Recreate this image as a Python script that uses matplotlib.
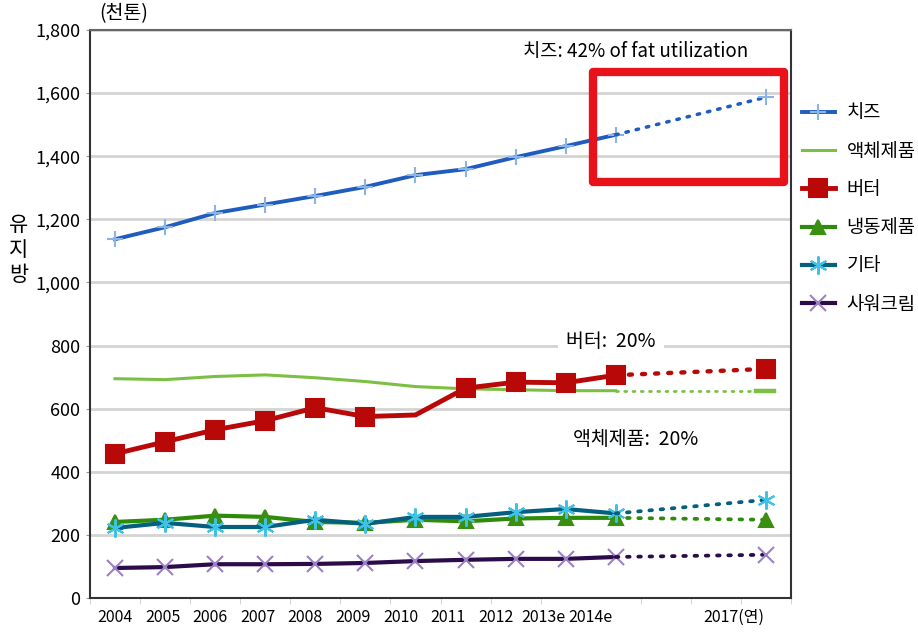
import matplotlib
matplotlib.use("Agg")
import matplotlib.pyplot as plt
from matplotlib.patches import Rectangle

plt.rcParams['font.family'] = ['Noto Sans CJK KR', 'DejaVu Sans']

# %% data (천톤)
categories = ['2004', '2005', '2006', '2007', '2008', '2009', '2010', '2011',
              '2012', '2013e', '2014e', '', '', '2017(연)']
hist_idx = list(range(11))
proj_idx = 13

cheese = [1137, 1175, 1220, 1247, 1274, 1303, 1340, 1359, 1397, 1432, 1468]
cheese_2017 = 1587
liquid = [695, 692, 702, 707, 698, 686, 670, 663, 660, 657, 657]
liquid_2017 = 657
butter = [457, 495, 533, 562, 603, 575, 580, 665, 684, 682, 706]
butter_2017 = 726
frozen = [241, 248, 261, 257, 241, 238, 248, 243, 252, 254, 254]
frozen_2017 = 248
other = [222, 238, 225, 225, 248, 235, 257, 257, 272, 282, 268]
other_2017 = 311
sour = [95, 98, 107, 107, 108, 111, 117, 121, 124, 124, 130]
sour_2017 = 137

series = [
    # name, hist, 2017, line color, marker, marker color, marker size, line width
    ('치즈', cheese, cheese_2017, '#1f5cbf', '+', '#8ab4e6', 12, 2.8),
    ('액체제품', liquid, liquid_2017, '#7cc043', None, '#7cc043', 0, 2.2),
    ('버터', butter, butter_2017, '#b80808', 's', '#b80808', 13, 3.5),
    ('냉동제품', frozen, frozen_2017, '#2f8c0a', '^', '#3a8f10', 10, 3.0),
    ('기타', other, other_2017, '#04607e', (6, 2, 0), '#3ec3e6', 13, 3.0),
    ('사워크림', sour, sour_2017, '#2c0b4a', 'x', '#9b80c4', 11, 3.0),
]

# %% plot
fig = plt.figure(figsize=(9.18, 6.33), dpi=100)
ax = fig.add_axes([0.098, 0.0553, 0.7637, 0.8973])

handles = []
for name, vals, v17, col, mk, mcol, ms, lw in series:
    markevery = None
    if name == '버터':
        markevery = [i for i in hist_idx if i != 6]
    h, = ax.plot(hist_idx, vals, color=col, lw=lw, marker=mk, ms=ms,
                 mfc=mcol, mec=mcol, mew=1.5, markevery=markevery, zorder=3,
                 label=name)
    ax.plot([hist_idx[-1], proj_idx], [vals[-1], v17], color=col, lw=lw * 0.9,
            linestyle=(0, (0.7, 2.3)), dash_capstyle='round', zorder=3)
    if mk is not None:
        ax.plot([proj_idx], [v17], marker=mk, ms=ms, mfc=mcol, mec=mcol,
                mew=1.5, ls='none', zorder=4)
    else:
        ax.plot([proj_idx - 0.2, proj_idx + 0.15], [v17, v17], color=col,
                lw=lw + 1, zorder=3)
    handles.append(h)

ax.set_xlim(-0.5, 13.5)
ax.set_ylim(0, 1800)
ax.set_yticks(range(0, 1801, 200))
ax.set_yticklabels(['0', '200', '400', '600', '800', '1,000', '1,200',
                    '1,400', '1,600', '1,800'], fontsize=13)
ax.set_xticks([i * 0.95 for i in range(len(categories))])
ax.set_xticklabels(categories, fontsize=11.5)
ax.set_xticks([i - 0.5 for i in range(15)], minor=True)
ax.tick_params(axis='x', which='major', length=0, pad=8)
ax.tick_params(axis='x', which='minor', length=4, color='#cccccc')
ax.tick_params(axis='y', length=3, color='#999999', pad=4)
ax.grid(axis='y', color='#d4d4d4', lw=2)
ax.set_axisbelow(True)
for s in ax.spines.values():
    s.set_color('#333333')
    s.set_linewidth(1.5)
ax.spines['top'].set_color('#666666')

# highlight box around projection
ax.add_patch(Rectangle((9.54, 1317), 3.82, 350, fill=False, ec='#e8121b',
                       lw=6, zorder=5, joinstyle='round'))

ax.text(10.4, 1733, '치즈: 42% of fat utilization', ha='center', va='center',
        fontsize=13.5)
ax.text(9.9, 813, '버터:  20%', ha='center', va='center', fontsize=14,
        bbox=dict(fc='white', ec='none', pad=6))
ax.text(10.4, 502, '액체제품:  20%', ha='center', va='center', fontsize=14,
        bbox=dict(fc='white', ec='none', pad=6))

fig.text(0.135, 0.978, '(천톤)', ha='center', va='center', fontsize=14)
fig.text(0.02, 0.605, '유\n지\n방', ha='center', va='center', fontsize=15,
         linespacing=1.2)

fig.legend(handles=handles, loc='upper left', bbox_to_anchor=(0.865, 0.85),
           frameon=False, fontsize=13.5, handlelength=1.8, handletextpad=0.6,
           labelspacing=0.92, borderaxespad=0)

fig.savefig('out.png', dpi=100)
